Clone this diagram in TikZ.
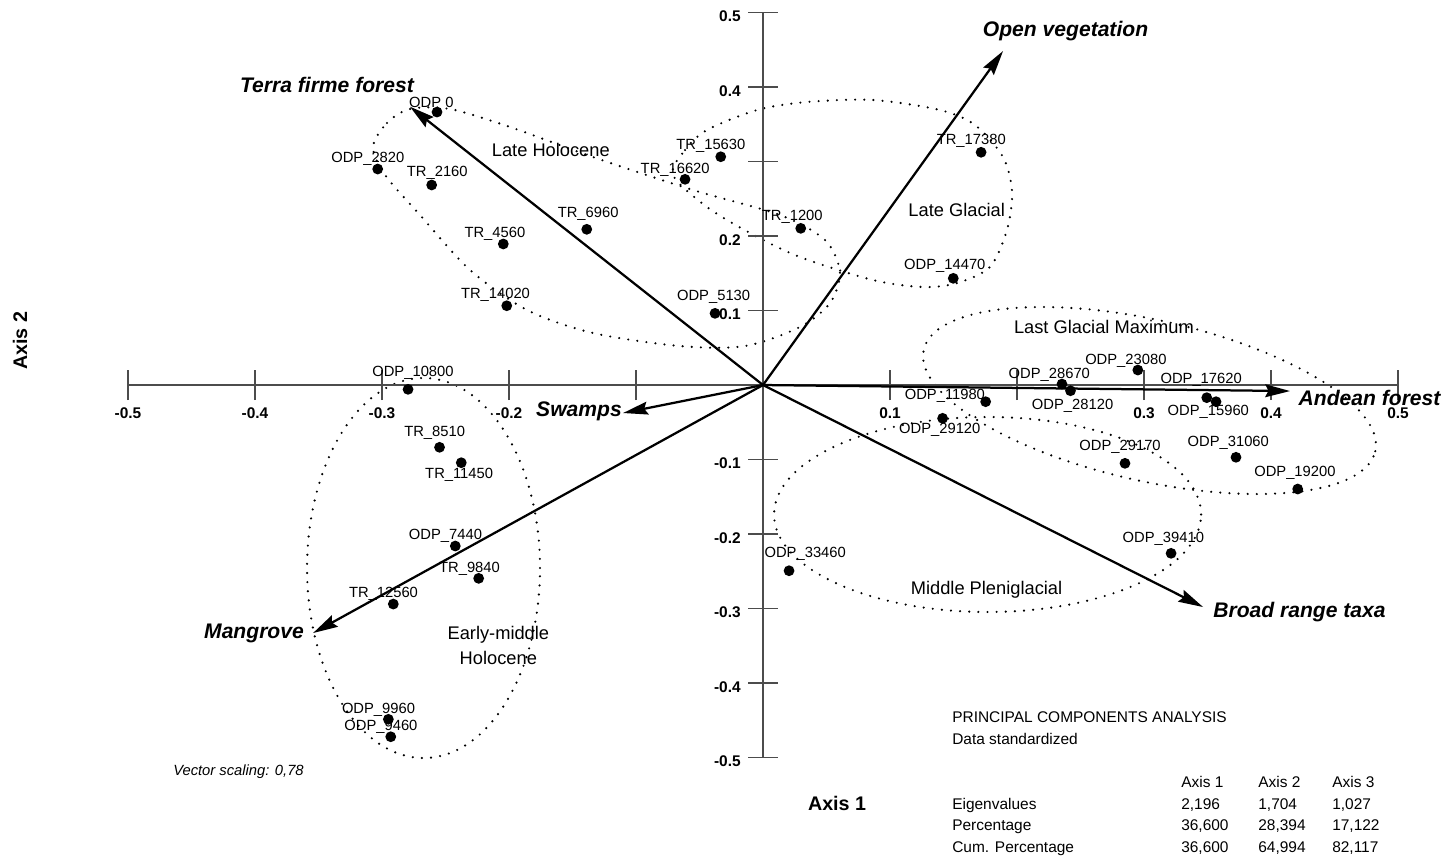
\documentclass[tikz,border=0pt]{standalone}
\usepackage{fontspec}
\setmainfont{Liberation Sans}
\usetikzlibrary{arrows.meta}

\begin{document}
\begin{tikzpicture}[x=31.75cm, y=18.625cm,
    sample/.style={circle, fill=black, inner sep=0pt, minimum size=0.27cm},
    samplelab/.style={inner sep=0pt, font=\fontsize{10.5}{12}\selectfont},
    vec/.style={line width=1.6pt, -{Stealth[length=0.62cm, width=0.32cm, inset=0.08cm]}},
    veclab/.style={inner sep=0pt, font=\fontsize{15}{18}\selectfont\bfseries\itshape},
    grouplab/.style={inner sep=0pt, align=center, font=\fontsize{13}{17.8}\selectfont},
    group/.style={line width=1.7pt, line cap=round, dash pattern=on 0pt off 6.5pt},
    axisline/.style={line width=0.9pt, black!70},
    ticklab/.style={inner sep=0pt, font=\fontsize{11}{13}\selectfont\bfseries},
    axistitle/.style={inner sep=0pt, font=\fontsize{14}{16}\selectfont\bfseries},
    tabtext/.style={inner sep=0pt, anchor=base west, font=\fontsize{11}{13}\selectfont}]
    \useasboundingbox (-0.6008,-0.6376) rectangle (0.5417,0.5168);
    \coordinate (O) at (0,0);

    % groups
    \draw[group] plot[smooth cycle] coordinates {(-0.3071,0.3195) (-0.2961,0.3517) (-0.2780,0.3705)
        (-0.2465,0.3705) (-0.1992,0.3463) (-0.1339,0.3060) (-0.0551,0.2617) (0.0134,0.2282)
        (0.0488,0.1946) (0.0606,0.1517) (0.0528,0.1101) (0.0291,0.0779) (-0.0142,0.0523)
        (-0.0654,0.0523) (-0.1339,0.0698) (-0.1858,0.1007) (-0.2307,0.1544) (-0.2701,0.2282)
        (-0.2976,0.2819)};
    \draw[group] plot[smooth cycle] coordinates {(-0.0709,0.2819) (-0.0614,0.3154) (-0.0441,0.3423)
        (-0.0047,0.3691) (0.0346,0.3799) (0.0866,0.3826) (0.1394,0.3691) (0.1669,0.3490)
        (0.1890,0.3060) (0.1961,0.2591) (0.1921,0.2081) (0.1787,0.1584) (0.1528,0.1369)
        (0.1260,0.1315) (0.0866,0.1409) (0.0291,0.1718) (-0.0102,0.2040) (-0.0441,0.2389)};
    \draw[group] (0.3043,-0.0208) circle [x radius=5.785cm, y radius=2.0125cm, rotate=-12.66];
    \draw[group] (0.1768,-0.1738) circle [x radius=5.3375cm, y radius=2.4375cm];
    \draw[group] (-0.2673,-0.2456) circle [x radius=2.9125cm, y radius=4.75cm];

    \node[grouplab] (lh) at (-0.1671,0.3154) {Late Holocene};
    \node[grouplab] (lg) at (0.1525,0.2349) {Late Glacial};
    \node[grouplab] (lgm) at (0.2684,0.0783) {Last Glacial Maximum};
    \node[grouplab] (mp) at (0.1760,-0.2752) {Middle Pleniglacial};
    \node[grouplab] (emh) at (-0.2084,-0.3501) {Early-middle\\Holocene};

    % axes
    \draw[axisline] (-0.5,0) -- (0.5,0);
    \draw[axisline] (0,-0.5) -- (0,0.5);
    \foreach \k in {-5,...,5} {
        \draw[axisline] (\k/10,0) ++(0,-0.375cm) -- ++(0,0.75cm);
        \draw[axisline] (0,\k/10) ++(-0.375cm,0) -- ++(0.75cm,0);
    }
    \foreach \v [count=\i] in {-0.5,-0.4,-0.3,-0.2,0.1,0.3,0.4,0.5}
        \node[ticklab] (xt\i) at ([yshift=-0.7cm]\v,0) {\v};
    \foreach \v [count=\i] in {0.5,0.4,0.2,0.1,-0.1,-0.2,-0.3,-0.4,-0.5}
        \node[ticklab, anchor=east] (yt\i) at ([xshift=-0.55cm, yshift=-0.1cm]0,\v) {\v};
    \node[axistitle] (ax1) at (0.0583,-0.5611) {Axis 1};
    \node[axistitle, rotate=90] (ax2) at (-0.5850,0.0591) {Axis 2};

    % vectors
    \foreach \nm/\x/\y/\lx/\ly/\txt in {
        terra/-0.2780/0.3736/-0.3433/0.4027/Terra firme forest,
        open/0.1890/0.4483/0.2382/0.4752/Open vegetation,
        andean/0.4150/-0.0081/0.4776/-0.0174/Andean forest,
        swamp/-0.1102/-0.0376/-0.1449/-0.0349/Swamps,
        mangrove/-0.3543/-0.3329/-0.4008/-0.3329/Mangrove,
        broad/0.3465/-0.2980/0.4224/-0.3047/Broad range taxa} {
        \coordinate (\nm) at (\x,\y);
        \draw[vec] (O) -- (\nm);
        \node[veclab] (\nm-lab) at (\lx,\ly) {\txt};
    }

    % samples
    \foreach \lab/\x/\y/\dx/\dy [count=\i] in {
        ODP 0/-0.2567/0.3664/-4/7, ODP\_2820/-0.3034/0.2899/-7/7,
        TR\_2160/-0.2609/0.2685/4/9, TR\_6960/-0.1388/0.2090/1/11,
        TR\_4560/-0.2045/0.1893/-6/7, TR\_14020/-0.2018/0.1064/-8/8,
        ODP\_5130/-0.0378/0.0962/-1/12, TR\_16620/-0.0614/0.2761/-7/7,
        TR\_15630/-0.0333/0.3064/-7/8, TR\_1200/0.0297/0.2103/-6/8,
        TR\_17380/0.1717/0.3124/-7/8, ODP\_14470/0.1498/0.1432/-6/9,
        ODP\_23080/0.2951/0.0201/-8.5/6.5, ODP\_28670/0.2354/0.0013/-9/6.5,
        ODP\_28120/0.2421/-0.0077/1.5/-10.5, ODP\_11980/0.1753/-0.0224/-29/4,
        ODP\_17620/0.3494/-0.0170/-4/12.5, ODP\_15960/0.3567/-0.0224/-5.5/-7,
        ODP\_31060/0.3724/-0.0970/-5.5/10.5, ODP\_19200/0.4210/-0.1396/-2/11.5,
        ODP\_29120/0.1414/-0.0447/-2/-8.5, ODP\_29170/0.2850/-0.1051/-3.5/12,
        ODP\_39410/0.3213/-0.2259/-5.5/10, ODP\_33460/0.0205/-0.2493/11.5/12,
        ODP\_10800/-0.2795/-0.0058/3.5/11.5, TR\_8510/-0.2547/-0.0836/-3.5/10,
        TR\_11450/-0.2376/-0.1043/-1.5/-8.5, ODP\_7440/-0.2423/-0.2161/-7/7,
        TR\_9840/-0.2239/-0.2595/-6.5/7, TR\_12560/-0.2911/-0.2940/-7/7,
        ODP\_9960/-0.2950/-0.4487/-7/7, ODP\_9460/-0.2931/-0.4721/-7/7} {
        \node[samplelab] (l\i) at ([shift={(\dx pt,\dy pt)}]\x,\y) {\lab};
        \node[sample] (s\i) at (\x,\y) {};
    }

    % table
    \node[tabtext, font=\fontsize{10.5}{12}\selectfont\itshape] (scal) at (-0.4646,-0.5235) {Vector scaling: 0,78};
    \node[tabtext] (pca) at (0.1488,-0.4530) {PRINCIPAL COMPONENTS ANALYSIS};
    \node[tabtext] (std) at (0.1488,-0.4830) {Data standardized};
    \foreach \c/\x [count=\i] in {Axis 1/0.3291, Axis 2/0.3898, Axis 3/0.4480}
        \node[tabtext] (col\i) at (\x,-0.5409) {\c};
    \foreach \rn/\a/\b/\c/\y [count=\r] in {
        Eigenvalues/2{,}196/1{,}704/1{,}027/-0.5698,
        Percentage/36{,}600/28{,}394/17{,}122/-0.5980,
        Cum. Percentage/36{,}600/64{,}994/82{,}117/-0.6268} {
        \node[tabtext] (r\r) at (0.1488,\y) {\rn};
        \node[tabtext] (r\r-1) at (0.3291,\y) {\a};
        \node[tabtext] (r\r-2) at (0.3898,\y) {\b};
        \node[tabtext] (r\r-3) at (0.4480,\y) {\c};
    }
\end{tikzpicture}
\end{document}
